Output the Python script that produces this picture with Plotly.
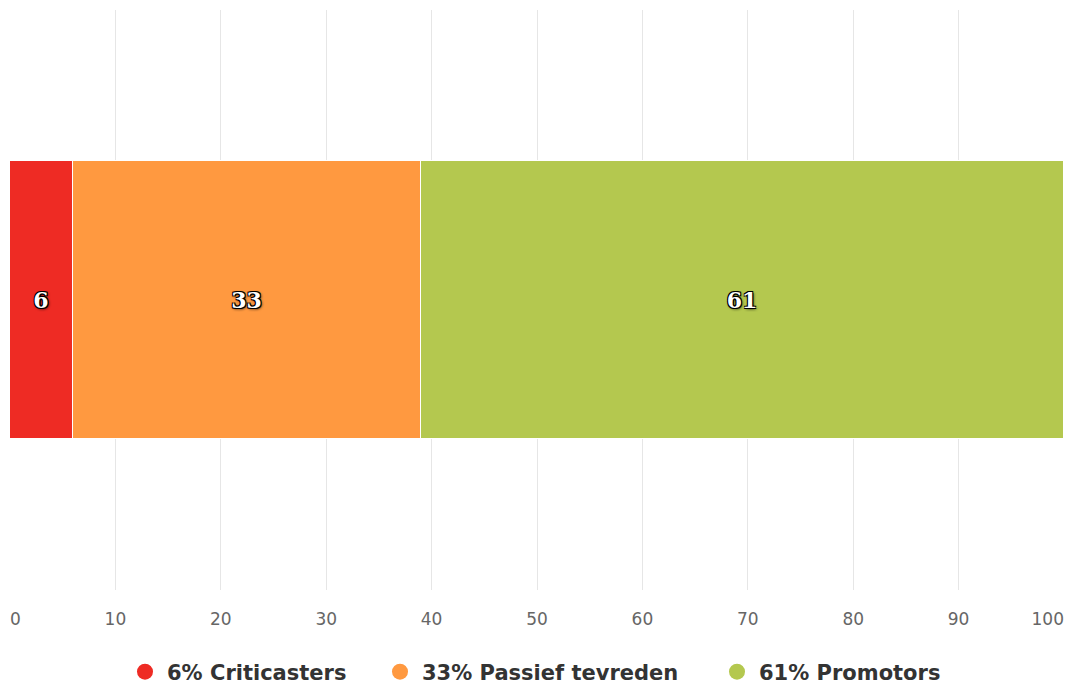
import plotly.graph_objects as go

categories = ["NPS"]
series_names = ["6% Criticasters", "33% Passief tevreden", "61% Promotors"]
series_values = [6, 33, 61]
series_colors = ["#EE2B24", "#FF9940", "#B4C84F"]
tick_values = [10, 20, 30, 40, 50, 60, 70, 80, 90]
tick_labels = [str(v) for v in tick_values]
edge_tick_left = [0]
edge_tick_right = [100]

fig = go.Figure()
for name, val, col in zip(series_names, series_values, series_colors):
    fig.add_trace(go.Bar(
        y=categories, x=[val], orientation="h", name=name,
        marker=dict(color=col, line=dict(color="#ffffff", width=1)),
        width=0.48,
        text=[str(val)], textposition="inside", insidetextanchor="middle",
        textfont=dict(family="DejaVu Serif", size=22, color="#ffffff", weight="bold",
                      shadow="-1px -1px 0 #000, 1px -1px 0 #000, -1px 1px 0 #000, 1px 1px 0 #000, 1px 1px 3px #000"),
        constraintext="none", showlegend=False, hoverinfo="skip",
    ))

legend_axes = ["x2", "x3", "x2"]
legend_ids = ["legend", "legend2", "legend3"]
for name, col, xa, lg in zip(series_names, series_colors, legend_axes, legend_ids):
    fig.add_trace(go.Scatter(
        x=[None], y=[None], mode="markers", name=name, xaxis=xa, legend=lg,
        marker=dict(symbol="circle", size=22, color=col),
        showlegend=True, hoverinfo="skip",
    ))

axis_common = dict(range=[0, 100], fixedrange=True, ticks="", showline=False, zeroline=False,
                   tickfont=dict(family="DejaVu Sans", size=17, color="#666666"),
                   ticklabelstandoff=17)
legend_common = dict(orientation="h", xanchor="left", xref="container",
                     y=14 / 686, yanchor="middle", yref="container", itemwidth=34,
                     font=dict(family="DejaVu Sans", size=21, color="#333333", weight="bold"),
                     itemclick=False, itemdoubleclick=False)
fig.update_layout(
    width=1066, height=686,
    margin=dict(l=10, r=2, t=10, b=96, autoexpand=False),
    paper_bgcolor="#ffffff", plot_bgcolor="#ffffff",
    barmode="stack", bargap=0,
    xaxis=dict(**axis_common, tickvals=tick_values, ticktext=tick_labels,
               showgrid=True, gridcolor="#e6e6e6", gridwidth=1),
    xaxis2=dict(**axis_common, overlaying="x", anchor="y", side="bottom",
                tickvals=edge_tick_left, ticktext=[str(v) for v in edge_tick_left],
                ticklabelposition="outside right", showgrid=True, gridcolor="#e6e6e6"),
    xaxis3=dict(**axis_common, overlaying="x", anchor="y", side="bottom",
                tickvals=edge_tick_right, ticktext=[str(v) for v in edge_tick_right],
                ticklabelposition="outside left", showgrid=True, gridcolor="#e6e6e6"),
    yaxis=dict(range=[-0.5, 0.5], visible=False, fixedrange=True),
    legend=dict(**legend_common, x=123 / 1066),
    legend2=dict(**legend_common, x=378 / 1066),
    legend3=dict(**legend_common, x=715 / 1066),
)
fig.write_html("out.html")
